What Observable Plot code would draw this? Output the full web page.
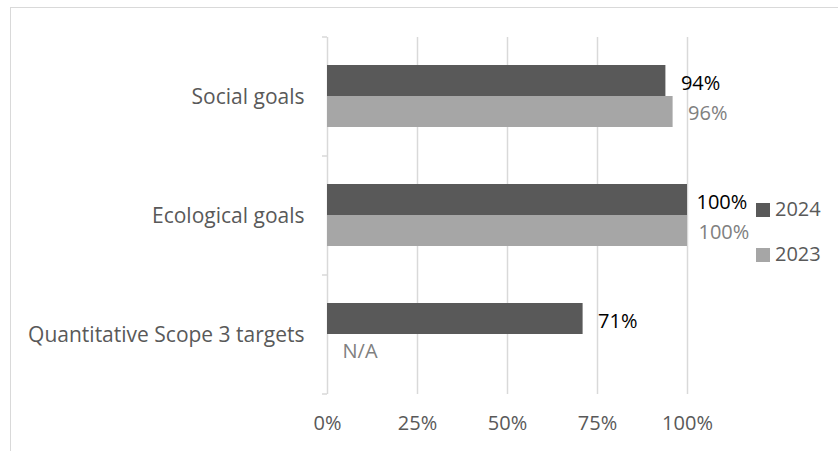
<!DOCTYPE html>
<html>
<head>
<meta charset="utf-8">
<script src="https://cdn.jsdelivr.net/npm/d3@7"></script>
<script src="https://cdn.jsdelivr.net/npm/@observablehq/plot@0.6"></script>
<style>
  html, body { margin: 0; padding: 0; background: #fff; }
  body { width: 838px; height: 451px; position: relative; overflow: hidden; font-family: "Open Sans", sans-serif; }
  #border { position: absolute; left: 10px; top: 7px; width: 900px; height: 500px; border-top: 1px solid #d9d9d9; border-left: 1px solid #d9d9d9; }
  #chart { position: absolute; left: 0; top: 0; }
  #legend { position: absolute; left: 756px; top: 186px; font-size: 20px; color: #595959; line-height: 45px; }
  .sw { display: inline-block; width: 14px; height: 14px; margin-right: 5px; vertical-align: -1px; }
</style>
</head>
<body>
<div id="border"></div>
<div id="chart"></div>
<div id="legend"></div>
<script>
const categories = ["Social goals", "Ecological goals", "Quantitative Scope 3 targets"];
const years = ["2024", "2023"];
const values2024 = [94, 100, 71];
const values2023 = [96, 100, null];
const xTicks = [0, 25, 50, 75, 100];
const colors = { "2024": "#595959", "2023": "#a6a6a6" };
const labelColors = { "2024": "#000000", "2023": "#808080" };

const rows = [];
categories.forEach((c, i) => {
  rows.push({ category: c, year: "2024", value: values2024[i] });
  rows.push({ category: c, year: "2023", value: values2023[i] });
});
const r24 = rows.filter(d => d.year === "2024");
const r23 = rows.filter(d => d.year === "2023");
const lab = d => d.value == null ? "N/A" : d.value + "%";
const lx = d => d.value == null ? 0 : d.value;

const axisTicks = (index, scales, values, dimensions) => {
  const y = scales.y, x = scales.x;
  const bw = y.bandwidth ? y.bandwidth() : 0;
  const x0 = x(0);
  const ns = "http://www.w3.org/2000/svg";
  const g = document.createElementNS(ns, "g");
  const edges = categories.map(c => y(c)).concat([y(categories[categories.length - 1]) + bw]);
  for (const e of edges) {
    const l = document.createElementNS(ns, "line");
    l.setAttribute("x1", x0 - 5); l.setAttribute("x2", x0);
    l.setAttribute("y1", e); l.setAttribute("y2", e);
    l.setAttribute("stroke", "#d9d9d9");
    l.setAttribute("stroke-width", 1.5);
    g.appendChild(l);
  }
  return g;
};

const textStyle = { fontSize: 20, fontFamily: "Open Sans", textAnchor: "start" };

const chart = Plot.plot({
  width: 838,
  height: 451,
  marginLeft: 327,
  marginRight: 151,
  marginTop: 37,
  marginBottom: 57,
  style: { fontFamily: "Open Sans", background: "transparent", overflow: "visible" },
  x: { domain: [0, 100], ticks: xTicks },
  y: { domain: categories, paddingInner: 0, paddingOuter: 0 },
  marks: [
    Plot.ruleX(xTicks.filter(t => t > 0), { stroke: "#d9d9d9", strokeWidth: 1.5 }),
    Plot.ruleX([0], { stroke: "#d9d9d9", strokeWidth: 1.5 }),
    axisTicks,
    Plot.barX(r24, { x: "value", y: "category", fill: colors["2024"], insetTop: 28, insetBottom: 60 }),
    Plot.barX(r23.filter(d => d.value != null), { x: "value", y: "category", fill: colors["2023"], insetTop: 59, insetBottom: 29 }),
    Plot.text(r24.filter(d => d.value < 100), { x: lx, y: "category", text: lab, dy: -13, dx: 15, fill: labelColors["2024"], ...textStyle }),
    Plot.text(r24.filter(d => d.value >= 100), { x: lx, y: "category", text: lab, dy: -13, dx: 9, fill: labelColors["2024"], ...textStyle }),
    Plot.text(r23.filter(d => d.value == null || d.value < 100), { x: lx, y: "category", text: lab, dy: 17, dx: 15, fill: labelColors["2023"], ...textStyle }),
    Plot.text(r23.filter(d => d.value >= 100), { x: lx, y: "category", text: lab, dy: 17, dx: 11, fill: labelColors["2023"], ...textStyle }),
    Plot.axisY({ tickSize: 0, tickPadding: 23, fontSize: 21, fill: "#595959", label: null }),
    Plot.axisX({ ticks: xTicks, tickSize: 0, tickPadding: 21, fontSize: 20, fill: "#595959", tickFormat: d => d + "%", label: null })
  ]
});
document.getElementById("chart").appendChild(chart);

const legend = document.getElementById("legend");
for (const yr of years) {
  const row = document.createElement("div");
  const sw = document.createElement("span");
  sw.className = "sw";
  sw.style.background = colors[yr];
  row.appendChild(sw);
  row.appendChild(document.createTextNode(yr));
  legend.appendChild(row);
}
</script>
</body>
</html>
